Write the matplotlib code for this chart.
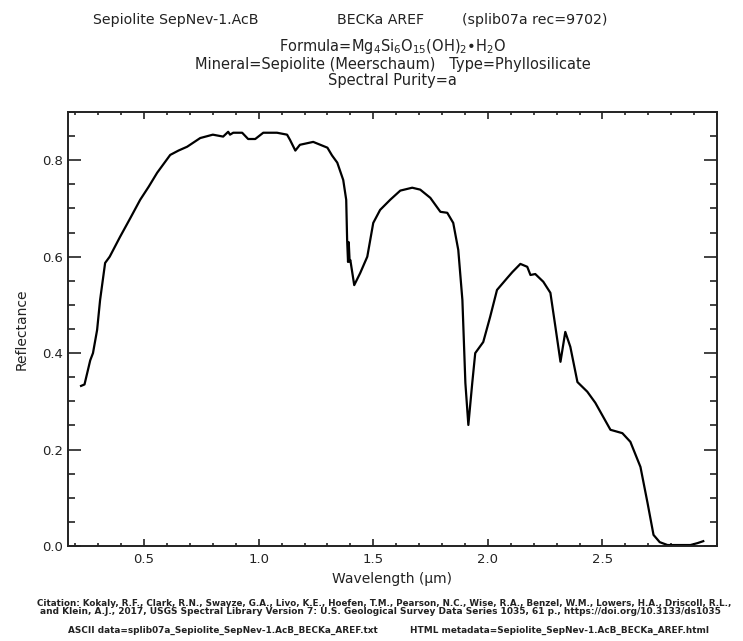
import numpy as np
import matplotlib
import matplotlib.pyplot as plt
from matplotlib.ticker import MultipleLocator

matplotlib.use("Agg")

# spectrum (wavelength in um, reflectance)
wavelength = [0.225, 0.24, 0.255, 0.265, 0.277, 0.295, 0.308, 0.32, 0.33, 0.35,
              0.395, 0.44, 0.483, 0.52, 0.557, 0.614, 0.65, 0.688, 0.745, 0.80,
              0.845, 0.867, 0.875, 0.889, 0.928, 0.954, 0.985, 1.02, 1.08, 1.124,
              1.137, 1.16, 1.18, 1.238, 1.30, 1.32, 1.343, 1.369, 1.382, 1.386,
              1.39, 1.393, 1.397, 1.40, 1.417, 1.443, 1.474, 1.50, 1.53, 1.574,
              1.618, 1.67, 1.705, 1.749, 1.793, 1.823, 1.849, 1.871, 1.889, 1.902,
              1.915, 1.932, 1.945, 1.98, 2.01, 2.04, 2.085, 2.107, 2.142, 2.172,
              2.186, 2.207, 2.242, 2.273, 2.295, 2.317, 2.338, 2.36, 2.391, 2.434,
              2.469, 2.535, 2.587, 2.622, 2.666, 2.697, 2.723, 2.75, 2.784, 2.884,
              2.915, 2.94]
reflectance = [0.332, 0.335, 0.365, 0.385, 0.40, 0.448, 0.51, 0.552, 0.587, 0.60,
               0.641, 0.68, 0.718, 0.745, 0.774, 0.811, 0.82, 0.828, 0.846, 0.853,
               0.849, 0.859, 0.853, 0.857, 0.857, 0.844, 0.844, 0.857, 0.857, 0.853,
               0.842, 0.82, 0.832, 0.838, 0.826, 0.81, 0.795, 0.759, 0.718, 0.635,
               0.589, 0.63, 0.59, 0.593, 0.541, 0.566, 0.60, 0.67, 0.697, 0.718,
               0.737, 0.743, 0.739, 0.722, 0.693, 0.691, 0.67, 0.614, 0.51, 0.338,
               0.251, 0.338, 0.40, 0.423, 0.475, 0.531, 0.556, 0.568, 0.585, 0.579,
               0.562, 0.564, 0.548, 0.525, 0.454, 0.382, 0.444, 0.413, 0.34, 0.32,
               0.297, 0.241, 0.234, 0.216, 0.164, 0.089, 0.023, 0.008, 0.002, 0.002,
               0.006, 0.01]

title_parts = ["Sepiolite SepNev-1.AcB", "BECKa AREF", "(splib07a rec=9702)"]
formula_line = r"Formula=Mg$_4$Si$_6$O$_{15}$(OH)$_2$•H$_2$O"
mineral_line = "Mineral=Sepiolite (Meerschaum)   Type=Phyllosilicate"
purity_line = "Spectral Purity=a"
citation_1 = ("Citation: Kokaly, R.F., Clark, R.N., Swayze, G.A., Livo, K.E., Hoefen, T.M., "
              "Pearson, N.C., Wise, R.A., Benzel, W.M., Lowers, H.A., Driscoll, R.L.,")
citation_2 = ("and Klein, A.J., 2017, USGS Spectral Library Version 7: U.S. Geological "
              "Survey Data Series 1035, 61 p., https://doi.org/10.3133/ds1035")
ascii_name = "ASCII data=splib07a_Sepiolite_SepNev-1.AcB_BECKa_AREF.txt"
html_name = "HTML metadata=Sepiolite_SepNev-1.AcB_BECKa_AREF.html"

plt.rcParams["font.family"] = "DejaVu Sans"
plt.rcParams["mathtext.fontset"] = "dejavusans"
text_color = "#222222"

fig = plt.figure(figsize=(7.43, 6.41), dpi=100)
ax = fig.add_axes([68 / 743, 1 - 546 / 641, (717 - 68) / 743, (546 - 112) / 641])

ax.plot(wavelength, reflectance, color="black", lw=1.6)
ax.set_xlim(0.168, 3.0)
ax.set_ylim(0.0, 0.9)

ax.xaxis.set_major_locator(MultipleLocator(0.5))
ax.xaxis.set_minor_locator(MultipleLocator(0.1))
ax.yaxis.set_major_locator(MultipleLocator(0.2))
ax.yaxis.set_minor_locator(MultipleLocator(0.05))
ax.tick_params(which="both", direction="in", top=True, right=True, labelsize=9.5,
               colors=text_color, width=1.2)
ax.tick_params(axis="x", which="major", length=5, pad=5)
ax.tick_params(axis="x", which="minor", length=2.5)
ax.tick_params(axis="y", which="major", length=9.5)
ax.tick_params(axis="y", which="minor", length=5)
for s in ax.spines.values():
    s.set_linewidth(1.4)
    s.set_color(text_color)

xt = [0.5, 1.0, 1.5, 2.0, 2.5]
ax.set_xticks(xt)
ax.set_xticklabels([f"{v:.1f}" for v in xt])

ax.set_xlabel("Wavelength (µm)", fontsize=10, color=text_color, labelpad=4)
ax.set_ylabel("Reflectance", fontsize=10, color=text_color, labelpad=10)

# title pieces, spaced like the original
for xpos, part in zip([93, 337, 462], title_parts):
    fig.text(xpos / 743, 1 - 20 / 641, part, ha="left", va="center",
             fontsize=10.2, color=text_color)
xc = (68 + 717) / 2 / 743
fig.text(xc, 1 - 46 / 641, formula_line, ha="center", va="center", fontsize=10.5, color=text_color)
fig.text(xc, 1 - 64 / 641, mineral_line, ha="center", va="center", fontsize=10.5, color=text_color)
fig.text(xc, 1 - 81 / 641, purity_line, ha="center", va="center", fontsize=10.5, color=text_color)

fig.text(37 / 743, 1 - 603 / 641, citation_1, ha="left", va="center", fontsize=6.3,
         color=text_color, fontweight="bold")
fig.text(40 / 743, 1 - 611 / 641, citation_2, ha="left", va="center", fontsize=6.5,
         color=text_color, fontweight="bold")
fig.text(68 / 743, 1 - 630 / 641, ascii_name, ha="left", va="center", fontsize=6.4,
         color=text_color, fontweight="bold")
fig.text(410 / 743, 1 - 630 / 641, html_name, ha="left", va="center", fontsize=6.4,
         color=text_color, fontweight="bold")

plt.savefig("out.png", dpi=100)
